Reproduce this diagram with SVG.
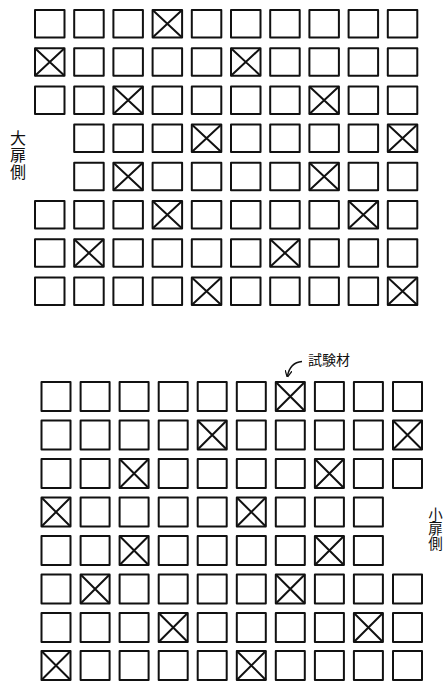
<svg xmlns="http://www.w3.org/2000/svg" xmlns:xlink="http://www.w3.org/1999/xlink" width="445" height="681" viewBox="0 0 445 681">
<style>
.bx{fill:none;stroke:#111;stroke-width:2;stroke-linejoin:round}
.lb{font-family:"Noto Sans CJK JP","Noto Sans CJK SC",sans-serif;fill:#111}
.vt{writing-mode:vertical-rl;text-orientation:upright}
.cn{fill:none;stroke:#111;stroke-width:1.4}
</style>
<defs>
<g id="bt"><rect class="bx" x="1" y="1" width="29.5" height="27.5"/></g>
<g id="xt"><rect class="bx" x="1" y="1" width="29.5" height="27.5"/><path class="bx" d="M1,1L30.5,28.5M30.5,1L1,28.5"/></g>
<g id="bb"><rect class="bx" x="1" y="1" width="29" height="29"/></g>
<g id="xb"><rect class="bx" x="1" y="1" width="29" height="29"/><path class="bx" d="M1,1L30,30M30,1L1,30"/></g>
<marker id="ah" viewBox="0 0 10 10" refX="8" refY="5" markerWidth="7" markerHeight="7" orient="auto" markerUnits="userSpaceOnUse"><path d="M0,0L10,5L0,10" fill="none" stroke="#111" stroke-width="1.8"/></marker>
</defs>
<g id="top-grid">
<use id="t1-1" href="#bt" x="34" y="9"/><use id="t1-2" href="#bt" x="73.2" y="9"/><use id="t1-3" href="#bt" x="112.4" y="9"/><use id="t1-4" href="#xt" x="151.6" y="9"/><use id="t1-5" href="#bt" x="190.8" y="9"/><use id="t1-6" href="#bt" x="230" y="9"/><use id="t1-7" href="#bt" x="269.2" y="9"/><use id="t1-8" href="#bt" x="308.4" y="9"/><use id="t1-9" href="#bt" x="347.6" y="9"/><use id="t1-10" href="#bt" x="386.8" y="9"/>
<use id="t2-1" href="#xt" x="34" y="47.2"/><use id="t2-2" href="#bt" x="73.2" y="47.2"/><use id="t2-3" href="#bt" x="112.4" y="47.2"/><use id="t2-4" href="#bt" x="151.6" y="47.2"/><use id="t2-5" href="#bt" x="190.8" y="47.2"/><use id="t2-6" href="#xt" x="230" y="47.2"/><use id="t2-7" href="#bt" x="269.2" y="47.2"/><use id="t2-8" href="#bt" x="308.4" y="47.2"/><use id="t2-9" href="#bt" x="347.6" y="47.2"/><use id="t2-10" href="#bt" x="386.8" y="47.2"/>
<use id="t3-1" href="#bt" x="34" y="85.4"/><use id="t3-2" href="#bt" x="73.2" y="85.4"/><use id="t3-3" href="#xt" x="112.4" y="85.4"/><use id="t3-4" href="#bt" x="151.6" y="85.4"/><use id="t3-5" href="#bt" x="190.8" y="85.4"/><use id="t3-6" href="#bt" x="230" y="85.4"/><use id="t3-7" href="#bt" x="269.2" y="85.4"/><use id="t3-8" href="#xt" x="308.4" y="85.4"/><use id="t3-9" href="#bt" x="347.6" y="85.4"/><use id="t3-10" href="#bt" x="386.8" y="85.4"/>
<use id="t4-2" href="#bt" x="73.2" y="123.6"/><use id="t4-3" href="#bt" x="112.4" y="123.6"/><use id="t4-4" href="#bt" x="151.6" y="123.6"/><use id="t4-5" href="#xt" x="190.8" y="123.6"/><use id="t4-6" href="#bt" x="230" y="123.6"/><use id="t4-7" href="#bt" x="269.2" y="123.6"/><use id="t4-8" href="#bt" x="308.4" y="123.6"/><use id="t4-9" href="#bt" x="347.6" y="123.6"/><use id="t4-10" href="#xt" x="386.8" y="123.6"/>
<use id="t5-2" href="#bt" x="73.2" y="161.8"/><use id="t5-3" href="#xt" x="112.4" y="161.8"/><use id="t5-4" href="#bt" x="151.6" y="161.8"/><use id="t5-5" href="#bt" x="190.8" y="161.8"/><use id="t5-6" href="#bt" x="230" y="161.8"/><use id="t5-7" href="#bt" x="269.2" y="161.8"/><use id="t5-8" href="#xt" x="308.4" y="161.8"/><use id="t5-9" href="#bt" x="347.6" y="161.8"/><use id="t5-10" href="#bt" x="386.8" y="161.8"/>
<use id="t6-1" href="#bt" x="34" y="200"/><use id="t6-2" href="#bt" x="73.2" y="200"/><use id="t6-3" href="#bt" x="112.4" y="200"/><use id="t6-4" href="#xt" x="151.6" y="200"/><use id="t6-5" href="#bt" x="190.8" y="200"/><use id="t6-6" href="#bt" x="230" y="200"/><use id="t6-7" href="#bt" x="269.2" y="200"/><use id="t6-8" href="#bt" x="308.4" y="200"/><use id="t6-9" href="#xt" x="347.6" y="200"/><use id="t6-10" href="#bt" x="386.8" y="200"/>
<use id="t7-1" href="#bt" x="34" y="238.2"/><use id="t7-2" href="#xt" x="73.2" y="238.2"/><use id="t7-3" href="#bt" x="112.4" y="238.2"/><use id="t7-4" href="#bt" x="151.6" y="238.2"/><use id="t7-5" href="#bt" x="190.8" y="238.2"/><use id="t7-6" href="#bt" x="230" y="238.2"/><use id="t7-7" href="#xt" x="269.2" y="238.2"/><use id="t7-8" href="#bt" x="308.4" y="238.2"/><use id="t7-9" href="#bt" x="347.6" y="238.2"/><use id="t7-10" href="#bt" x="386.8" y="238.2"/>
<use id="t8-1" href="#bt" x="34" y="276.4"/><use id="t8-2" href="#bt" x="73.2" y="276.4"/><use id="t8-3" href="#bt" x="112.4" y="276.4"/><use id="t8-4" href="#bt" x="151.6" y="276.4"/><use id="t8-5" href="#xt" x="190.8" y="276.4"/><use id="t8-6" href="#bt" x="230" y="276.4"/><use id="t8-7" href="#bt" x="269.2" y="276.4"/><use id="t8-8" href="#bt" x="308.4" y="276.4"/><use id="t8-9" href="#bt" x="347.6" y="276.4"/><use id="t8-10" href="#xt" x="386.8" y="276.4"/>
</g>
<g id="bottom-grid">
<use id="b1-1" href="#bb" x="40.5" y="381"/><use id="b1-2" href="#bb" x="79.6" y="381"/><use id="b1-3" href="#bb" x="118.6" y="381"/><use id="b1-4" href="#bb" x="157.7" y="381"/><use id="b1-5" href="#bb" x="196.7" y="381"/><use id="b1-6" href="#bb" x="235.8" y="381"/><use id="b1-7" href="#xb" x="274.8" y="381"/><use id="b1-8" href="#bb" x="313.9" y="381"/><use id="b1-9" href="#bb" x="352.9" y="381"/><use id="b1-10" href="#bb" x="392" y="381"/>
<use id="b2-1" href="#bb" x="40.5" y="419.5"/><use id="b2-2" href="#bb" x="79.6" y="419.5"/><use id="b2-3" href="#bb" x="118.6" y="419.5"/><use id="b2-4" href="#bb" x="157.7" y="419.5"/><use id="b2-5" href="#xb" x="196.7" y="419.5"/><use id="b2-6" href="#bb" x="235.8" y="419.5"/><use id="b2-7" href="#bb" x="274.8" y="419.5"/><use id="b2-8" href="#bb" x="313.9" y="419.5"/><use id="b2-9" href="#bb" x="352.9" y="419.5"/><use id="b2-10" href="#xb" x="392" y="419.5"/>
<use id="b3-1" href="#bb" x="40.5" y="458"/><use id="b3-2" href="#bb" x="79.6" y="458"/><use id="b3-3" href="#xb" x="118.6" y="458"/><use id="b3-4" href="#bb" x="157.7" y="458"/><use id="b3-5" href="#bb" x="196.7" y="458"/><use id="b3-6" href="#bb" x="235.8" y="458"/><use id="b3-7" href="#bb" x="274.8" y="458"/><use id="b3-8" href="#xb" x="313.9" y="458"/><use id="b3-9" href="#bb" x="352.9" y="458"/><use id="b3-10" href="#bb" x="392" y="458"/>
<use id="b4-1" href="#xb" x="40.5" y="496.5"/><use id="b4-2" href="#bb" x="79.6" y="496.5"/><use id="b4-3" href="#bb" x="118.6" y="496.5"/><use id="b4-4" href="#bb" x="157.7" y="496.5"/><use id="b4-5" href="#bb" x="196.7" y="496.5"/><use id="b4-6" href="#xb" x="235.8" y="496.5"/><use id="b4-7" href="#bb" x="274.8" y="496.5"/><use id="b4-8" href="#bb" x="313.9" y="496.5"/><use id="b4-9" href="#bb" x="352.9" y="496.5"/>
<use id="b5-1" href="#bb" x="40.5" y="535"/><use id="b5-2" href="#bb" x="79.6" y="535"/><use id="b5-3" href="#xb" x="118.6" y="535"/><use id="b5-4" href="#bb" x="157.7" y="535"/><use id="b5-5" href="#bb" x="196.7" y="535"/><use id="b5-6" href="#bb" x="235.8" y="535"/><use id="b5-7" href="#bb" x="274.8" y="535"/><use id="b5-8" href="#xb" x="313.9" y="535"/><use id="b5-9" href="#bb" x="352.9" y="535"/>
<use id="b6-1" href="#bb" x="40.5" y="573.5"/><use id="b6-2" href="#xb" x="79.6" y="573.5"/><use id="b6-3" href="#bb" x="118.6" y="573.5"/><use id="b6-4" href="#bb" x="157.7" y="573.5"/><use id="b6-5" href="#bb" x="196.7" y="573.5"/><use id="b6-6" href="#bb" x="235.8" y="573.5"/><use id="b6-7" href="#xb" x="274.8" y="573.5"/><use id="b6-8" href="#bb" x="313.9" y="573.5"/><use id="b6-9" href="#bb" x="352.9" y="573.5"/><use id="b6-10" href="#bb" x="392" y="573.5"/>
<use id="b7-1" href="#bb" x="40.5" y="612"/><use id="b7-2" href="#bb" x="79.6" y="612"/><use id="b7-3" href="#bb" x="118.6" y="612"/><use id="b7-4" href="#xb" x="157.7" y="612"/><use id="b7-5" href="#bb" x="196.7" y="612"/><use id="b7-6" href="#bb" x="235.8" y="612"/><use id="b7-7" href="#bb" x="274.8" y="612"/><use id="b7-8" href="#bb" x="313.9" y="612"/><use id="b7-9" href="#xb" x="352.9" y="612"/><use id="b7-10" href="#bb" x="392" y="612"/>
<use id="b8-1" href="#xb" x="40.5" y="650"/><use id="b8-2" href="#bb" x="79.6" y="650"/><use id="b8-3" href="#bb" x="118.6" y="650"/><use id="b8-4" href="#bb" x="157.7" y="650"/><use id="b8-5" href="#bb" x="196.7" y="650"/><use id="b8-6" href="#xb" x="235.8" y="650"/><use id="b8-7" href="#bb" x="274.8" y="650"/><use id="b8-8" href="#bb" x="313.9" y="650"/><use id="b8-9" href="#bb" x="352.9" y="650"/><use id="b8-10" href="#bb" x="392" y="650"/>
</g>
<g id="label-large-door">
<text class="lb vt" font-size="16" letter-spacing="1" x="18" y="130">大扉側</text>
</g>
<g id="label-small-door">
<text class="lb vt" font-size="14.5" x="435.5" y="507">小扉側</text>
</g>
<g id="label-specimen">
<text class="lb" font-size="14" x="308" y="365">試験材</text>
</g>
<g id="connectors">
<path class="cn" d="M302,361.5 Q290,362.5 287.5,376" marker-end="url(#ah)"/>
</g>
</svg>
